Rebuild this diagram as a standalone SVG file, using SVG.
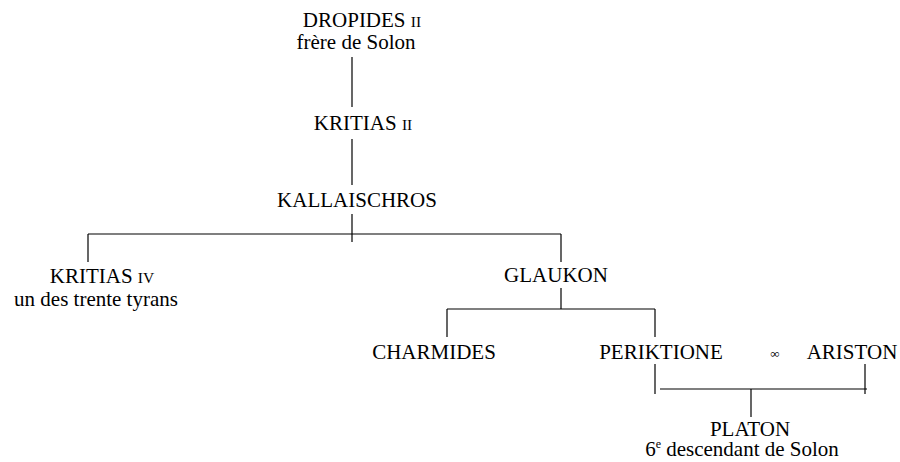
<svg xmlns="http://www.w3.org/2000/svg" width="900" height="462" viewBox="0 0 900 462">
<style>
text{font-family:'Liberation Serif','Times New Roman',serif;font-size:21px;fill:#000;text-anchor:middle}
.sc{font-size:15.5px}
.inf{font-size:13px}
.sup{font-size:12px}
#connectors line{stroke:#000;stroke-width:1.2}
</style>
<rect width="900" height="462" fill="#fff"/>
<g id="connectors">
<line x1="352" y1="57" x2="352" y2="107"/>
<line x1="352" y1="139" x2="352" y2="185"/>
<line x1="352" y1="214" x2="352" y2="242"/>
<line x1="88" y1="234" x2="561" y2="234"/>
<line x1="88" y1="234" x2="88" y2="262"/>
<line x1="561" y1="234" x2="561" y2="262"/>
<line x1="561" y1="288" x2="561" y2="309"/>
<line x1="447" y1="309" x2="655" y2="309"/>
<line x1="447" y1="309" x2="447" y2="337"/>
<line x1="655" y1="309" x2="655" y2="337"/>
<line x1="655" y1="364" x2="655" y2="394"/>
<line x1="865" y1="364" x2="865" y2="394"/>
<line x1="660" y1="389" x2="867" y2="389"/>
<line x1="751" y1="389" x2="751" y2="417"/>
</g>
<g id="dropides"><text x="362" y="27">DROPIDES <tspan class="sc">II</tspan></text><text x="356" y="49">frère de Solon</text></g>
<g id="kritias2"><text x="363" y="130">KRITIAS <tspan class="sc">II</tspan></text></g>
<g id="kallaischros"><text x="357" y="207">KALLAISCHROS</text></g>
<g id="kritias4"><text x="102" y="283">KRITIAS <tspan class="sc">IV</tspan></text><text x="96" y="306">un des trente tyrans</text></g>
<g id="glaukon"><text x="556" y="282">GLAUKON</text></g>
<g id="charmides"><text x="434" y="359">CHARMIDES</text></g>
<g id="periktione"><text x="661" y="359">PERIKTIONE</text></g>
<g id="marriage"><text class="inf" x="775" y="358">∞</text></g>
<g id="ariston"><text x="852" y="359">ARISTON</text></g>
<g id="platon"><text x="750" y="436">PLATON</text><text x="742" y="456">6<tspan class="sup" dy="-8">e</tspan><tspan dy="8"> descendant de Solon</tspan></text></g>
</svg>
